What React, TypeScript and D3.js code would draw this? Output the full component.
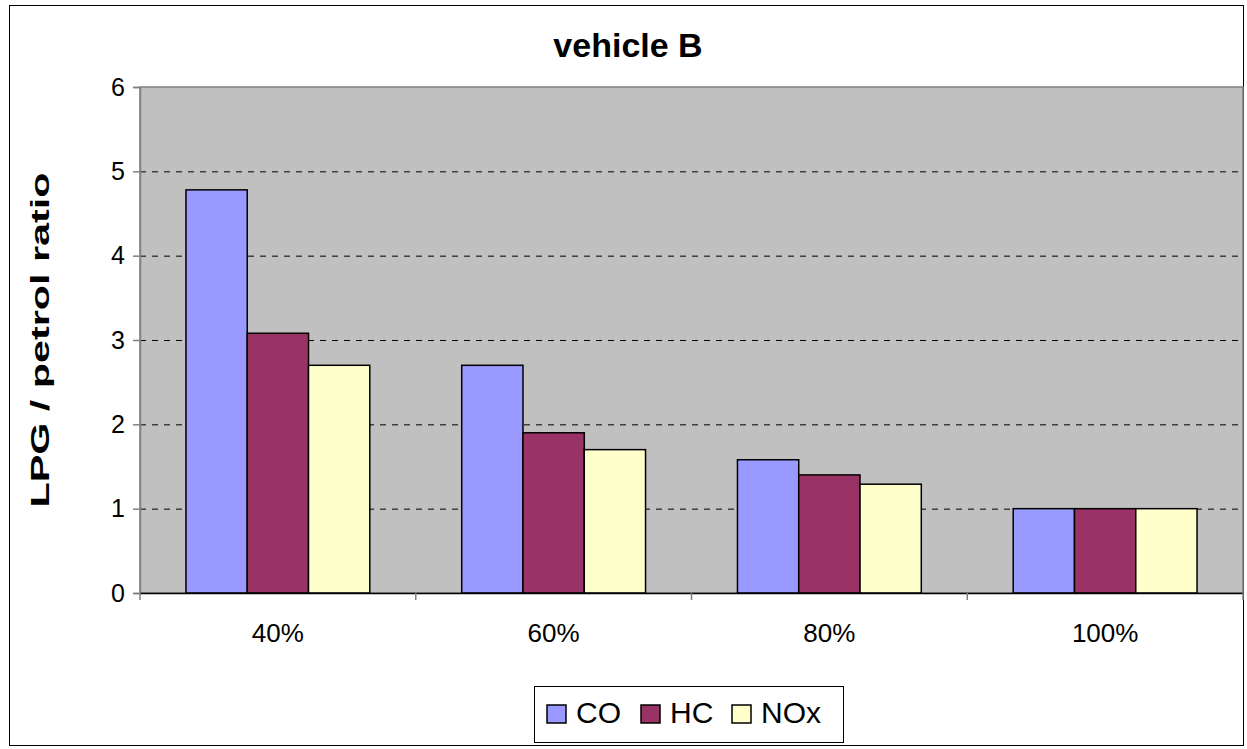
import React, { useEffect, useRef } from 'react';
import * as d3 from 'd3';

const categories = ['40%', '60%', '80%', '100%'];
const seriesNames = ['CO', 'HC', 'NOx'];
const seriesColors = ['#9999ff', '#993366', '#ffffcc'];
const coValues = [4.78, 2.7, 1.58, 1.0];
const hcValues = [3.08, 1.9, 1.4, 1.0];
const noxValues = [2.7, 1.7, 1.29, 1.0];
const yTicks = [0, 1, 2, 3, 4, 5, 6];

export default function App() {
    const ref = useRef<SVGSVGElement | null>(null);

    useEffect(() => {
        if (!ref.current) return;
        const svg = d3.select(ref.current);
        svg.selectAll('*').remove();

        const W = 1247, H = 749;
        const font = 'Liberation Sans, Arial, sans-serif';
        const plot = { left: 140, top: 87, right: 1243, bottom: 593 };

        // outer chart border
        svg.append('rect')
            .attr('x', 9.5).attr('y', 5.5)
            .attr('width', W - 13).attr('height', H - 9)
            .attr('fill', '#fff').attr('stroke', '#000').attr('stroke-width', 1);

        const x = d3.scaleBand<string>().domain(categories)
            .range([plot.left, plot.right]);
        const xInner = d3.scaleBand<string>().domain(seriesNames)
            .range([0, x.bandwidth()])
            .paddingOuter(0.75);
        const y = d3.scaleLinear().domain([0, 6]).range([plot.bottom, plot.top]);

        // plot area
        svg.append('rect')
            .attr('x', plot.left).attr('y', plot.top)
            .attr('width', plot.right - plot.left).attr('height', plot.bottom - plot.top)
            .attr('fill', '#c0c0c0').attr('stroke', '#808080').attr('stroke-width', 1.5);

        // gridlines
        svg.append('g').selectAll('line')
            .data(yTicks.filter(t => t > 0 && t < 6))
            .enter().append('line')
            .attr('x1', plot.left).attr('x2', plot.right)
            .attr('y1', d => y(d) + 0.5).attr('y2', d => y(d) + 0.5)
            .attr('stroke', '#000').attr('stroke-width', 1)
            .attr('stroke-dasharray', '6,6');

        // bars
        const series = [coValues, hcValues, noxValues];
        series.forEach((vals, si) => {
            svg.append('g').selectAll('rect')
                .data(vals)
                .enter().append('rect')
                .attr('x', (d, i) => (x(categories[i]) as number) + (xInner(seriesNames[si]) as number))
                .attr('y', d => y(d))
                .attr('width', xInner.bandwidth())
                .attr('height', d => y(0) - y(d))
                .attr('fill', seriesColors[si])
                .attr('stroke', '#000').attr('stroke-width', 1.5);
        });

        // y axis
        const yAxis = svg.append('g').attr('transform', `translate(${plot.left},0)`)
            .call(d3.axisLeft(y).tickValues(yTicks).tickSize(7).tickPadding(8).tickFormat(d3.format('d')));
        yAxis.select('.domain').attr('stroke', '#808080').attr('stroke-width', 1.5);
        yAxis.selectAll('.tick line').attr('stroke', '#808080').attr('stroke-width', 1.5);
        yAxis.selectAll('text').attr('font-family', font).attr('font-size', 25).attr('fill', '#000');

        // x axis
        const xAxis = svg.append('g').attr('transform', `translate(0,${plot.bottom})`)
            .call(d3.axisBottom(x).tickSize(0).tickPadding(31));
        xAxis.select('.domain').attr('stroke', '#000').attr('stroke-width', 1.5);
        xAxis.selectAll('text').attr('font-family', font).attr('font-size', 26).attr('fill', '#000');
        svg.append('g').selectAll('line')
            .data([...categories.map(c => x(c) as number), plot.right])
            .enter().append('line')
            .attr('x1', d => d).attr('x2', d => d)
            .attr('y1', plot.bottom).attr('y2', plot.bottom + 7)
            .attr('stroke', '#808080').attr('stroke-width', 1.5);

        // title
        svg.append('text')
            .attr('x', 628).attr('y', 57)
            .attr('text-anchor', 'middle')
            .attr('font-family', font).attr('font-weight', 'bold').attr('font-size', 34)
            .text('vehicle B');

        // y label
        svg.append('text')
            .attr('transform', `translate(49,${(plot.top + plot.bottom) / 2}) rotate(-90)`)
            .attr('text-anchor', 'middle')
            .attr('font-family', font).attr('font-weight', 'bold').attr('font-size', 25)
            .attr('textLength', 335).attr('lengthAdjust', 'spacingAndGlyphs')
            .text('LPG / petrol ratio');

        // legend
        const lg = svg.append('g');
        lg.append('rect')
            .attr('x', 534.5).attr('y', 686.5).attr('width', 309).attr('height', 56)
            .attr('fill', '#fff').attr('stroke', '#000').attr('stroke-width', 1);
        const legendX = [547, 641, 732];
        seriesNames.forEach((name, i) => {
            lg.append('rect')
                .attr('x', legendX[i]).attr('y', 705).attr('width', 19).attr('height', 18)
                .attr('fill', seriesColors[i]).attr('stroke', '#000').attr('stroke-width', 1.5);
            lg.append('text')
                .attr('x', legendX[i] + 29).attr('y', 723)
                .attr('font-family', font).attr('font-size', 30)
                .text(name);
        });
    }, []);

    return (
        <svg ref={ref} width={1247} height={749}
            style={{ position: 'absolute', left: 0, top: 0, background: '#fff' }} />
    );
}
